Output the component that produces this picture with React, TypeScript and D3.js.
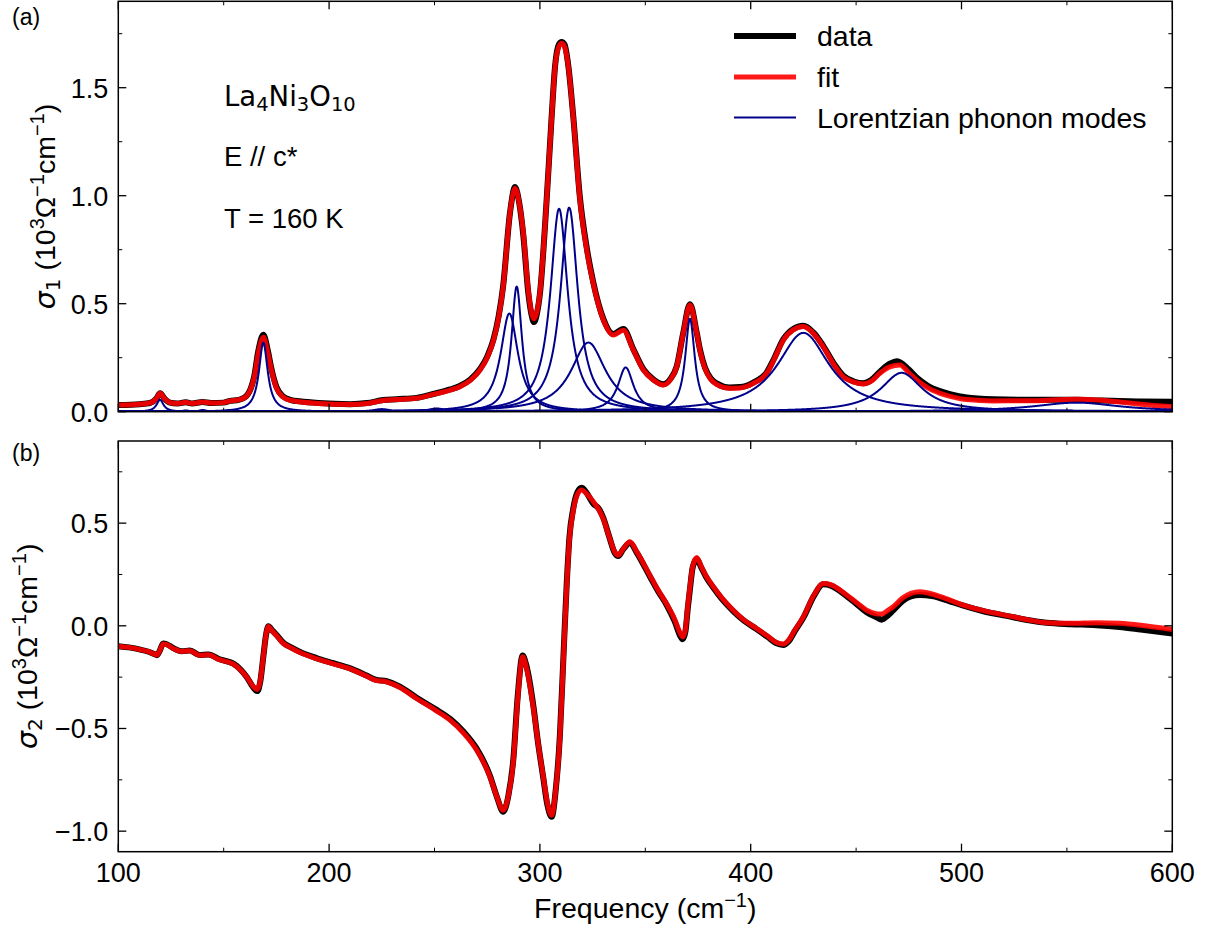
import React from 'react';
import * as d3 from 'd3';

// ---------- data ----------
const FREQ_TICKS = [100, 200, 300, 400, 500, 600];
const FREQ_MINOR = [150, 250, 350, 450, 550];
const S1_TICKS = [0, 0.5, 1.0, 1.5];
const S1_MINOR = [0.25, 0.75, 1.25, 1.75];
const S2_TICKS = [-1.0, -0.5, 0, 0.5];
const S2_MINOR = [-0.75, -0.25, 0.25, 0.75];

// sigma_1 fit (red)
const S1_FIT: [number, number][] = [
  [100, 0.031], [110, 0.035], [115, 0.040], [118, 0.060], [119.8, 0.085], [122, 0.060], [124.5, 0.042],
  [128, 0.038], [132, 0.044], [135, 0.038], [140, 0.045], [144, 0.040], [150, 0.042], [153, 0.050],
  [157, 0.055], [160, 0.065], [163, 0.11], [164.5, 0.16], [166.4, 0.27], [168.8, 0.345], [171, 0.27],
  [172.5, 0.20], [175, 0.11], [178, 0.069], [182, 0.052], [186, 0.046], [195, 0.038], [210, 0.033],
  [218, 0.038], [225.7, 0.052], [232, 0.056], [241.5, 0.062], [249.4, 0.080], [257.4, 0.100],
  [262, 0.116], [267, 0.145], [271.6, 0.193], [275, 0.25], [278, 0.33], [280.5, 0.44], [282.6, 0.58],
  [285.8, 0.92], [288.2, 1.035], [290.3, 0.96], [292.1, 0.83], [294.5, 0.56], [296, 0.46], [297.2, 0.43],
  [298.5, 0.46], [300, 0.55], [303.2, 0.98], [305.6, 1.366], [307.2, 1.597], [309, 1.69], [310.3, 1.706],
  [311.7, 1.69], [313.5, 1.597], [315.8, 1.366], [319, 0.98], [322.2, 0.75], [325.3, 0.594], [330.1, 0.425],
  [334.8, 0.355], [339.6, 0.377], [344.3, 0.286], [349.1, 0.193], [353.8, 0.147], [358.5, 0.124],
  [362, 0.15], [364.9, 0.208], [368, 0.363], [371.2, 0.494], [374.4, 0.363], [376, 0.28], [378.3, 0.20],
  [381, 0.15], [384, 0.125], [390, 0.108], [395, 0.11], [401.2, 0.131], [407.6, 0.178], [411, 0.24],
  [415.5, 0.332], [420, 0.378], [425, 0.394], [430, 0.36], [434.4, 0.301], [440, 0.21], [443.9, 0.162],
  [449, 0.137], [453.4, 0.128], [457, 0.140], [461.3, 0.178], [466, 0.208], [470.8, 0.216], [475, 0.18],
  [478.7, 0.147], [484, 0.11], [489.8, 0.085], [495, 0.070], [502.5, 0.056], [515, 0.050], [534, 0.051],
  [545, 0.055], [554.7, 0.058], [565, 0.054], [575, 0.045], [585, 0.035], [600, 0.023],
];

// sigma_1 data (black)
const S1_DATA: [number, number][] = [
  [100, 0.031], [110, 0.035], [115, 0.040], [118, 0.060], [119.8, 0.085], [122, 0.060], [124.5, 0.042],
  [128, 0.038], [132, 0.044], [135, 0.038], [140, 0.045], [144, 0.040], [150, 0.042], [153, 0.050],
  [157, 0.055], [160, 0.066], [163, 0.112], [164.5, 0.165], [166.4, 0.28], [168.8, 0.356], [171, 0.28],
  [172.5, 0.205], [175, 0.115], [178, 0.072], [182, 0.054], [186, 0.048], [195, 0.040], [210, 0.035],
  [218, 0.040], [225.7, 0.054], [232, 0.058], [241.5, 0.064], [249.4, 0.082], [257.4, 0.103],
  [262, 0.119], [267, 0.149], [271.6, 0.198], [275, 0.255], [278, 0.335], [280.5, 0.445], [282.6, 0.585],
  [285.8, 0.92], [288.2, 1.04], [290.3, 0.96], [292.1, 0.82], [294.5, 0.55], [296, 0.45], [297.2, 0.415],
  [298.5, 0.45], [300, 0.545], [303.2, 0.98], [305.6, 1.37], [307.2, 1.60], [309, 1.70], [310.3, 1.712],
  [311.7, 1.70], [313.5, 1.60], [315.8, 1.37], [319, 0.99], [322.2, 0.76], [325.3, 0.60], [330.1, 0.43],
  [334.8, 0.36], [339.6, 0.383], [344.3, 0.29], [349.1, 0.197], [353.8, 0.15], [358.5, 0.127],
  [362, 0.153], [364.9, 0.21], [368, 0.365], [371.2, 0.498], [374.4, 0.366], [376, 0.285], [378.3, 0.205],
  [381, 0.155], [384, 0.13], [390, 0.112], [395, 0.114], [401.2, 0.135], [407.6, 0.182], [411, 0.244],
  [415.5, 0.336], [420, 0.382], [425, 0.398], [430, 0.364], [434.4, 0.305], [440, 0.215], [443.9, 0.167],
  [449, 0.140], [453.4, 0.132], [457, 0.145], [461.3, 0.185], [466, 0.222], [469.5, 0.234], [475, 0.195],
  [478.7, 0.158], [484, 0.12], [489.8, 0.095], [495, 0.080], [502.5, 0.066], [515, 0.058], [534, 0.055],
  [545, 0.055], [554.7, 0.055], [565, 0.052], [575, 0.049], [585, 0.047], [600, 0.046],
];

// Lorentzian phonon modes: centre (cm^-1), peak height, FWHM (cm^-1)
const MODE_CENTER = [119.8, 132, 140, 153, 168.8, 225, 251, 285.5, 289.0, 309.1, 313.9, 323.0, 340.7, 371.2, 425.0, 471.6, 554.6];
const MODE_HEIGHT = [0.055, 0.006, 0.008, 0.008, 0.32, 0.012, 0.015, 0.455, 0.58, 0.94, 0.945, 0.32, 0.205, 0.43, 0.365, 0.18, 0.042];
const MODE_FWHM = [4, 4, 4, 4, 5, 10, 10, 10, 6, 10, 10, 20, 9, 5.5, 30, 24, 50];

// sigma_2 fit (red)
const S2_FIT: [number, number][] = [
  [100, -0.099], [105, -0.105], [110, -0.115], [114, -0.125], [117, -0.137], [118.4, -0.142], [119.5, -0.125],
  [121.3, -0.088], [123, -0.092], [126, -0.110], [130, -0.125], [134, -0.121], [138.5, -0.143], [142.7, -0.141],
  [148, -0.165], [154.6, -0.186], [158, -0.215], [161, -0.250], [164, -0.295], [165.9, -0.310], [167.3, -0.27],
  [168.8, -0.15], [170, -0.05], [171.2, -0.003], [173, -0.025], [175.1, -0.048], [178.3, -0.086], [182, -0.108],
  [186.2, -0.130], [194, -0.160], [202, -0.185], [210, -0.210], [217.8, -0.245], [222, -0.265], [227.3, -0.273],
  [233.6, -0.300], [241.5, -0.354], [250, -0.408], [257.4, -0.459], [264, -0.525], [270, -0.605], [276.3, -0.735],
  [279.5, -0.83], [282.6, -0.898], [285, -0.83], [287.4, -0.66], [289.5, -0.35], [291.8, -0.151], [293.5, -0.20],
  [296.9, -0.40], [299, -0.56], [301.6, -0.735], [303.5, -0.86], [305.6, -0.922], [307.5, -0.80], [309.5, -0.541],
  [311, -0.20], [312.7, 0.19], [314, 0.42], [315.8, 0.56], [317.8, 0.64], [319.8, 0.661], [322, 0.645],
  [325.3, 0.605], [328, 0.565], [330.1, 0.520], [333, 0.43], [335.5, 0.36], [337.2, 0.344], [339.5, 0.375],
  [342.7, 0.409], [346, 0.36], [352.2, 0.245], [356, 0.175], [360.2, 0.105], [364, 0.03], [366.5, -0.035],
  [367.7, -0.054], [369, -0.02], [370.2, 0.10], [371.2, 0.19], [372.5, 0.29], [374.4, 0.333], [376.5, 0.29],
  [379, 0.24], [382.3, 0.190], [386, 0.14], [391.7, 0.076], [396, 0.035], [402.8, -0.013], [408, -0.05],
  [412, -0.08], [415.5, -0.089], [418, -0.07], [421, -0.02], [425, 0.044], [430, 0.150], [434.4, 0.206],
  [438, 0.200], [445.5, 0.150], [450, 0.115], [455, 0.076], [460, 0.058], [462.1, 0.057], [465, 0.075],
  [467.6, 0.093], [472, 0.135], [476, 0.158], [480.3, 0.166], [486, 0.155], [492, 0.135], [500.9, 0.101],
  [510, 0.075], [524.6, 0.044], [532, 0.028], [540.4, 0.015], [552, 0.012], [564, 0.015], [575, 0.012],
  [585, 0.003], [600, -0.018],
];

// sigma_2 data (black)
const S2_DATA: [number, number][] = [
  [100, -0.099], [105, -0.105], [110, -0.115], [114, -0.125], [117, -0.137], [118.4, -0.143], [119.5, -0.125],
  [121.3, -0.086], [123, -0.090], [126, -0.108], [130, -0.124], [134, -0.120], [138.5, -0.142], [142.7, -0.140],
  [148, -0.163], [154.6, -0.184], [158, -0.213], [161, -0.250], [164, -0.300], [165.9, -0.318], [167.3, -0.275],
  [168.8, -0.15], [170, -0.05], [171.2, -0.002], [173, -0.022], [175.1, -0.045], [178.3, -0.083], [182, -0.105],
  [186.2, -0.127], [194, -0.157], [202, -0.182], [210, -0.207], [217.8, -0.242], [222, -0.262], [227.3, -0.270],
  [233.6, -0.296], [241.5, -0.350], [250, -0.403], [257.4, -0.453], [264, -0.518], [270, -0.598], [276.3, -0.73],
  [279.5, -0.83], [282.6, -0.905], [285, -0.83], [287.4, -0.65], [289.5, -0.34], [291.8, -0.145], [293.5, -0.19],
  [296.9, -0.39], [299, -0.56], [301.6, -0.74], [303.5, -0.87], [305.6, -0.93], [307.5, -0.80], [309.5, -0.53],
  [311, -0.19], [312.7, 0.20], [314, 0.43], [315.8, 0.57], [317.8, 0.65], [319.8, 0.672], [322, 0.650],
  [325.3, 0.595], [328, 0.570], [330.1, 0.525], [333, 0.43], [335.5, 0.355], [337.2, 0.340], [339.5, 0.372],
  [342.7, 0.405], [346, 0.355], [352.2, 0.24], [356, 0.17], [360.2, 0.10], [364, 0.02], [366.5, -0.048],
  [367.7, -0.065], [369, -0.03], [370.2, 0.09], [371.2, 0.18], [372.5, 0.285], [374.4, 0.325], [376.5, 0.285],
  [379, 0.235], [382.3, 0.185], [386, 0.135], [391.7, 0.072], [396, 0.032], [402.8, -0.016], [408, -0.054],
  [412, -0.084], [415.5, -0.093], [418, -0.075], [421, -0.025], [425, 0.040], [430, 0.146], [434.4, 0.202],
  [438, 0.196], [445.5, 0.145], [450, 0.108], [455, 0.066], [460, 0.040], [462.1, 0.030], [465, 0.050],
  [467.6, 0.075], [472, 0.120], [476, 0.143], [480.3, 0.150], [486, 0.145], [492, 0.128], [500.9, 0.098],
  [510, 0.072], [524.6, 0.042], [532, 0.027], [540.4, 0.015], [552, 0.008], [564, 0.003], [575, -0.006],
  [585, -0.018], [600, -0.037],
];

// ---------- layout ----------
const W = 1212;
const H = 933;
const X0 = 118.3;
const X1 = 1172.3;
const TOP = { y0: 1.3, y1: 411.7, domain: [0, 1.9] as [number, number] };
const BOT = { y0: 441, y1: 851.7, domain: [-1.1, 0.9] as [number, number] };
const FONT = 'Liberation Sans, Arial, Helvetica, sans-serif';
const MATHFONT = 'DejaVu Sans, sans-serif';
const TICK_FS = 27;
const LABEL_FS = 28.5;
const SUP_FS = 20;

const x = d3.scaleLinear().domain([100, 600]).range([X0, X1]);
const yTop = d3.scaleLinear().domain(TOP.domain).range([TOP.y1, TOP.y0]);
const yBot = d3.scaleLinear().domain(BOT.domain).range([BOT.y1, BOT.y0]);
const fmt = d3.format('.1f');

const modeGrid = d3.range(100, 600.001, 0.25);
const modeCurves = MODE_CENTER.map((c, i) =>
  modeGrid.map((f) => [f, MODE_HEIGHT[i] / (1 + Math.pow((f - c) / (MODE_FWHM[i] / 2), 2))] as [number, number])
);

function linePath(ys: d3.ScaleLinear<number, number>, pts: [number, number][]) {
  return d3
    .line<[number, number]>()
    .x((d) => x(d[0]))
    .y((d) => ys(d[1]))
    .curve(d3.curveMonotoneX)(pts) as string;
}

function Frame({ ys, yTicks, yMinor, y0, y1, xLabels }: any) {
  const maj = 8;
  const mn = 4;
  return (
    <g>
      {FREQ_TICKS.map((t) => (
        <g key={'xt' + t}>
          <line x1={x(t)} x2={x(t)} y1={y1} y2={y1 - maj} stroke="#000" strokeWidth={1.3} />
          <line x1={x(t)} x2={x(t)} y1={y0} y2={y0 + maj} stroke="#000" strokeWidth={1.3} />
          {xLabels && (
            <text x={x(t)} y={y1 + 30.5} textAnchor="middle" fontSize={TICK_FS} fontFamily={FONT}>
              {t}
            </text>
          )}
        </g>
      ))}
      {FREQ_MINOR.map((t) => (
        <g key={'xm' + t}>
          <line x1={x(t)} x2={x(t)} y1={y1} y2={y1 - mn} stroke="#000" strokeWidth={1} />
          <line x1={x(t)} x2={x(t)} y1={y0} y2={y0 + mn} stroke="#000" strokeWidth={1} />
        </g>
      ))}
      {yTicks.map((t: number) => (
        <g key={'yt' + t}>
          <line x1={X0} x2={X0 + maj} y1={ys(t)} y2={ys(t)} stroke="#000" strokeWidth={1.3} />
          <line x1={X1} x2={X1 - maj} y1={ys(t)} y2={ys(t)} stroke="#000" strokeWidth={1.3} />
          <text x={X0 - 10} y={ys(t) + 9.8} textAnchor="end" fontSize={TICK_FS} fontFamily={FONT}>
            {fmt(t)}
          </text>
        </g>
      ))}
      {yMinor.map((t: number) => (
        <g key={'ym' + t}>
          <line x1={X0} x2={X0 + mn} y1={ys(t)} y2={ys(t)} stroke="#000" strokeWidth={1} />
          <line x1={X1} x2={X1 - mn} y1={ys(t)} y2={ys(t)} stroke="#000" strokeWidth={1} />
        </g>
      ))}
      <rect x={X0} y={y0} width={X1 - X0} height={y1 - y0} fill="none" stroke="#000" strokeWidth={1.5} />
    </g>
  );
}

function YLabel({ cx, cy, sub }: { cx: number; cy: number; sub: string }) {
  return (
    <text transform={`translate(${cx},${cy}) rotate(-90)`} textAnchor="middle" fontSize={LABEL_FS} fontFamily={FONT}>
      <tspan fontFamily={MATHFONT} fontStyle="italic">σ</tspan>
      <tspan fontFamily={MATHFONT} fontSize={SUP_FS} dy={5}>{sub}</tspan>
      <tspan dy={-5}> (10</tspan>
      <tspan fontSize={SUP_FS} dy={-11}>3</tspan>
      <tspan dy={11}>Ω</tspan>
      <tspan fontSize={SUP_FS} dy={-11}>−1</tspan>
      <tspan dy={11}>cm</tspan>
      <tspan fontSize={SUP_FS} dy={-11}>−1</tspan>
      <tspan dy={11}>)</tspan>
    </text>
  );
}

export default function App() {
  return (
    <div style={{ position: 'absolute', left: 0, top: 0 }}>
      <svg width={W} height={H} viewBox={`0 0 ${W} ${H}`} style={{ display: 'block', background: '#fff' }}>
        <defs>
          <clipPath id="clipTop">
            <rect x={X0} y={TOP.y0} width={X1 - X0} height={TOP.y1 - TOP.y0} />
          </clipPath>
          <clipPath id="clipBot">
            <rect x={X0} y={BOT.y0} width={X1 - X0} height={BOT.y1 - BOT.y0} />
          </clipPath>
        </defs>

        {/* top panel curves */}
        <g clipPath="url(#clipTop)">
          <path d={linePath(yTop, S1_DATA)} fill="none" stroke="#000" strokeWidth={6} strokeLinejoin="round" />
          <path d={linePath(yTop, S1_FIT)} fill="none" stroke="#ff0000" strokeOpacity={0.9} strokeWidth={5} strokeLinejoin="round" />
          {modeCurves.map((pts, i) => (
            <path key={i} d={linePath(yTop, pts)} fill="none" stroke="#00008b" strokeWidth={2} />
          ))}
        </g>
        <Frame ys={yTop} yTicks={S1_TICKS} yMinor={S1_MINOR} y0={TOP.y0} y1={TOP.y1} xLabels={false} />

        {/* bottom panel curves */}
        <g clipPath="url(#clipBot)">
          <path d={linePath(yBot, S2_DATA)} fill="none" stroke="#000" strokeWidth={6} strokeLinejoin="round" />
          <path d={linePath(yBot, S2_FIT)} fill="none" stroke="#ff0000" strokeOpacity={0.9} strokeWidth={5} strokeLinejoin="round" />
        </g>
        <Frame ys={yBot} yTicks={S2_TICKS} yMinor={S2_MINOR} y0={BOT.y0} y1={BOT.y1} xLabels={true} />

        {/* axis labels */}
        <YLabel cx={55} cy={(TOP.y0 + TOP.y1) / 2} sub="1" />
        <YLabel cx={37} cy={(BOT.y0 + BOT.y1) / 2} sub="2" />
        <text x={(X0 + X1) / 2} y={918} textAnchor="middle" fontSize={LABEL_FS} fontFamily={FONT}>
          Frequency (cm
          <tspan fontSize={SUP_FS} dy={-11}>−1</tspan>
          <tspan dy={11}>)</tspan>
        </text>

        {/* panel letters */}
        <text x={12} y={25} fontSize={23} fontFamily={FONT}>(a)</text>
        <text x={12} y={461} fontSize={23} fontFamily={FONT}>(b)</text>

        {/* annotations */}
        <text x={224} y={106} fontSize={27.5} fontFamily={MATHFONT}>
          La<tspan fontSize={19.5} dy={5}>4</tspan>
          <tspan dy={-5}>Ni</tspan>
          <tspan fontSize={19.5} dy={5}>3</tspan>
          <tspan dy={-5}>O</tspan>
          <tspan fontSize={19.5} dy={5}>10</tspan>
        </text>
        <text x={224} y={166} fontSize={27.5} fontFamily={FONT}>E // c*</text>
        <text x={224} y={228} fontSize={27.5} fontFamily={FONT}>T = 160 K</text>

        {/* legend */}
        <line x1={734} x2={796} y1={36} y2={36} stroke="#000" strokeWidth={6} />
        <text x={817} y={46} fontSize={LABEL_FS} fontFamily={FONT}>data</text>
        <line x1={734} x2={796} y1={77} y2={77} stroke="#ff0000" strokeOpacity={0.9} strokeWidth={5} />
        <text x={817} y={87} fontSize={LABEL_FS} fontFamily={FONT}>fit</text>
        <line x1={734} x2={796} y1={117.5} y2={117.5} stroke="#00008b" strokeWidth={2} />
        <text x={817} y={127.5} fontSize={LABEL_FS} fontFamily={FONT}>Lorentzian phonon modes</text>
      </svg>
    </div>
  );
}
